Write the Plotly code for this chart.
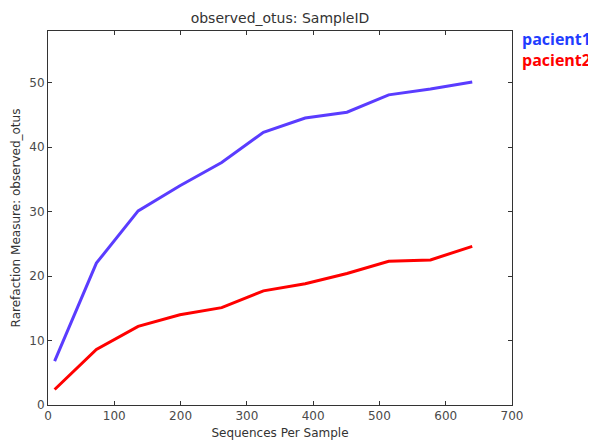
import plotly.graph_objects as go

seqs = [10, 73, 136, 199, 262, 325, 388, 451, 514, 577, 640]
pacient1 = [6.8, 22.0, 30.1, 34.0, 37.6, 42.3, 44.5, 45.4, 48.1, 49.0, 50.1]
pacient2 = [2.4, 8.6, 12.2, 14.0, 15.1, 17.7, 18.8, 20.4, 22.3, 22.5, 24.6]
names = ["pacient1", "pacient2"]
line_colors = ["#5a3cff", "#ff0000"]
label_colors = ["#1f3dff", "#ff0000"]
x_ticks = [0, 100, 200, 300, 400, 500, 600, 700]
y_ticks = [0, 10, 20, 30, 40, 50]

fig = go.Figure()
for name, vals, c in zip(names, [pacient1, pacient2], line_colors):
    fig.add_trace(go.Scatter(x=seqs, y=vals, mode="lines", name=name,
                             line=dict(color=c, width=3)))

for i, (name, c) in enumerate(zip(names, label_colors)):
    fig.add_annotation(text="<b>%s</b>" % name, xref="paper", yref="paper",
                       x=1.018, y=0.978 - i * 0.055, xanchor="left", yanchor="middle",
                       showarrow=False, font=dict(color=c, size=16, family="Open Sans"))

axis_common = dict(showline=True, linecolor="#333", linewidth=1, mirror="ticks",
                   ticks="inside", ticklen=4, tickcolor="#333", showgrid=False,
                   zeroline=False, automargin=False, tickfont=dict(size=12, color="#4a4a4a"))

fig.update_layout(
    width=588, height=432,
    margin=dict(l=40, r=84, t=23, b=35),
    paper_bgcolor="white", plot_bgcolor="white",
    showlegend=False,
    font=dict(family="DejaVu Sans", color="#333"),
    title=dict(text="observed_otus: SampleID", x=0.5, xref="paper", xanchor="center",
               y=0.977, yanchor="middle", font=dict(size=14, color="#333")),
    xaxis=dict(range=[0, 700], tickvals=x_ticks,
               title=dict(text="Sequences Per Sample", font=dict(size=12, color="#333"), standoff=6),
               **axis_common),
    yaxis=dict(range=[0, 58], tickvals=y_ticks,
               title=dict(text="Rarefaction Measure: observed_otus", font=dict(size=12, color="#333"), standoff=6),
               **axis_common),
)

fig.write_html("out.html")
